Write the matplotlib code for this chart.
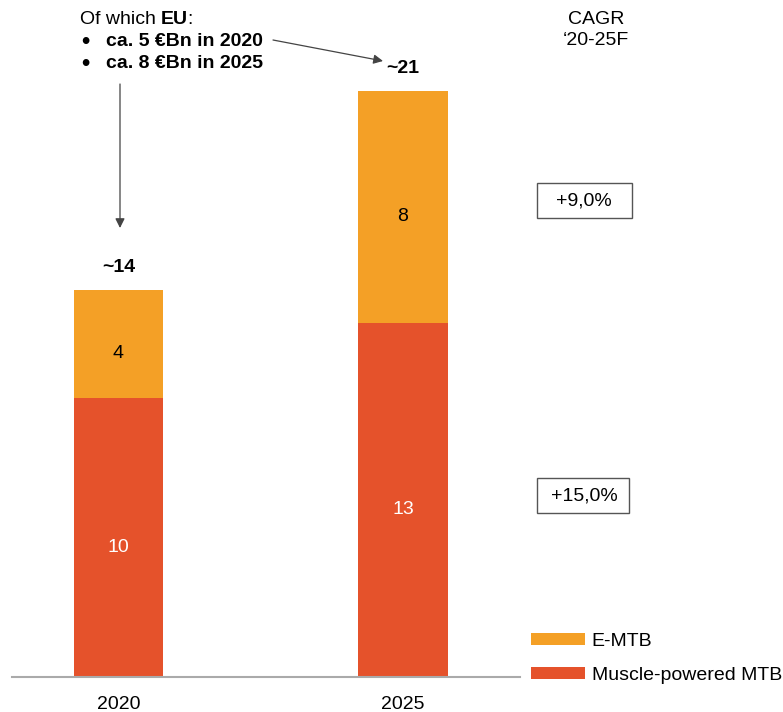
import matplotlib.pyplot as plt
from matplotlib.patches import FancyArrowPatch

plt.rcParams['font.family'] = ['Liberation Sans', 'DejaVu Sans']

years = ['2020', '2025']
muscle = [10.1, 12.8]
emtb = [3.9, 8.4]
muscle_labels = ['10', '13']
emtb_labels = ['4', '8']
totals = ['~14', '~21']
cagr = ['+9,0%', '+15,0%']

c_emtb = '#F4A026'
c_muscle = '#E5522B'
fs = 14

W, H = 783, 712
fig = plt.figure(figsize=(W / 100, H / 100), dpi=100)
ax = fig.add_axes([12 / W, 35 / H, 508 / W, 636 / H])

x = [0, 1]
b1 = ax.bar(x, muscle, width=0.313, color=c_muscle, label='Muscle-powered MTB')
b2 = ax.bar(x, emtb, width=0.313, bottom=muscle, color=c_emtb, label='E-MTB')
ax.set_xlim(-0.374, 1.411)
ax.set_ylim(0, 23.0)

for i in x:
    ax.annotate(muscle_labels[i], (i, muscle[i] / 2), xytext=(0, -7), textcoords='offset points',
                ha='center', va='center', color='white', fontsize=fs)
    ax.annotate(emtb_labels[i], (i, muscle[i] + emtb[i] / 2), xytext=(0, -7), textcoords='offset points',
                ha='center', va='center', color='black', fontsize=fs)
    ax.annotate(totals[i], (i, muscle[i] + emtb[i]), xytext=(0, 16), textcoords='offset points',
                ha='center', va='center', fontsize=fs, fontweight='bold')

for s in ['top', 'right', 'left']:
    ax.spines[s].set_visible(False)
ax.spines['bottom'].set_color('#aaaaaa')
ax.spines['bottom'].set_linewidth(1.5)
ax.set_yticks([])
ax.set_xticks(x)
ax.set_xticklabels(years, fontsize=fs)
ax.tick_params(axis='x', length=0, pad=14)

ax.legend(handles=[b2, b1], loc='upper left', bbox_to_anchor=(515 / W, 1 - 617 / H),
          bbox_transform=fig.transFigure, frameon=False, fontsize=fs,
          handlelength=2.8, handleheight=0.55, handletextpad=0.35, labelspacing=0.9,
          borderpad=0.3)


def fx(px):
    return px / W


def fy(py):
    return 1 - py / H


# note top left
fig.canvas.draw()
r = fig.canvas.get_renderer()
t1 = fig.text(fx(80), fy(19), 'Of which ', fontsize=fs, va='center')
e1 = t1.get_window_extent(r)
t2 = fig.text(e1.x1 / W, fy(19), 'EU', fontsize=fs, va='center', fontweight='bold')
e2 = t2.get_window_extent(r)
fig.text((e2.x1 - 1) / W, fy(19), ':', fontsize=fs, va='center')
for yy, txt in [(42, 'ca. 5 €Bn in 2020'), (63, 'ca. 8 €Bn in 2025')]:
    fig.text(fx(81), fy(yy), '•', fontsize=17, va='center', fontweight='bold')
    fig.text(fx(106), fy(yy), txt, fontsize=fs, va='center', fontweight='bold')

arrows = [((273, 40), (383, 61)), ((120, 84), (120, 228))]
for (x0, y0), (x1, y1) in arrows:
    fig.patches.append(FancyArrowPatch((fx(x0), fy(y0)), (fx(x1), fy(y1)), transform=fig.transFigure,
                                       arrowstyle='-|>', mutation_scale=14, color='#444444', lw=0.9,
                                       shrinkA=0, shrinkB=0))

fig.text(fx(596), fy(30), 'CAGR\n\u201820-25F', fontsize=fs, ha='center', va='center', linespacing=1.35)

for yy, txt in [(201, cagr[0]), (496, cagr[1])]:
    fig.text(fx(584), fy(yy), txt, fontsize=fs, ha='center', va='center')
for (x0, y0, x1, y1) in [(537, 183, 632, 218), (537, 478, 629, 513)]:
    fig.patches.append(plt.Rectangle((fx(x0), fy(y1)), (x1 - x0) / W, (y1 - y0) / H,
                                     transform=fig.transFigure, fill=False, edgecolor='#555555', lw=1))

fig.savefig('out.png', dpi=100)
